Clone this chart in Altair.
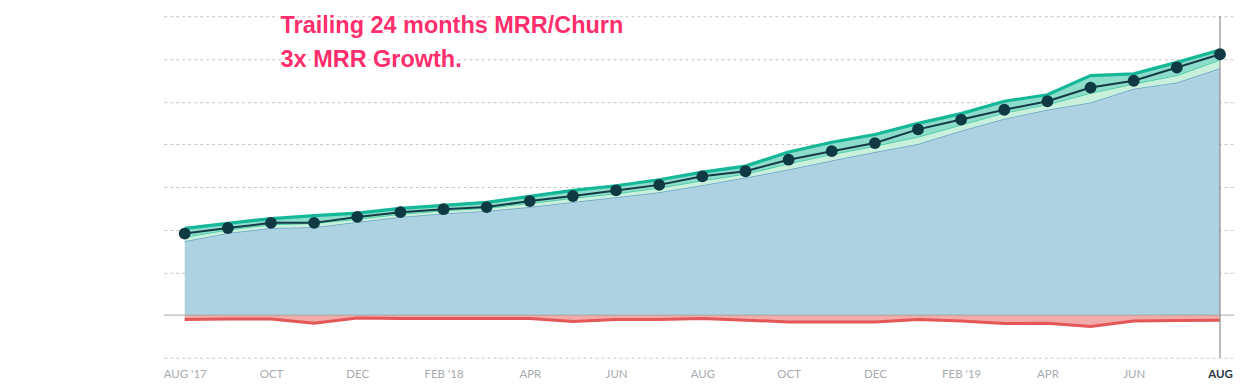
import json
import altair as alt
import pandas as pd

# ---- data (units = one gridline step) ----
months = ["2017-08", "2017-09", "2017-10", "2017-11", "2017-12", "2018-01", "2018-02",
          "2018-03", "2018-04", "2018-05", "2018-06", "2018-07", "2018-08", "2018-09",
          "2018-10", "2018-11", "2018-12", "2019-01", "2019-02", "2019-03", "2019-04",
          "2019-05", "2019-06", "2019-07", "2019-08"]
base = [1.73, 1.92, 2.04, 2.06, 2.18, 2.30, 2.38, 2.44, 2.53, 2.65, 2.76, 2.88, 3.04,
        3.22, 3.41, 3.62, 3.82, 4.01, 4.32, 4.60, 4.81, 4.98, 5.30, 5.45, 5.78]
expansion = [0.10, 0.08, 0.08, 0.09, 0.07, 0.07, 0.07, 0.07, 0.09, 0.09, 0.09, 0.10, 0.11,
             0.09, 0.14, 0.15, 0.14, 0.17, 0.14, 0.14, 0.12, 0.22, 0.12, 0.17, 0.20]
new = [0.20, 0.15, 0.14, 0.18, 0.14, 0.13, 0.12, 0.13, 0.16, 0.18, 0.18, 0.19, 0.20,
       0.18, 0.27, 0.28, 0.27, 0.31, 0.26, 0.27, 0.23, 0.41, 0.23, 0.30, 0.23]
contraction = [0.02, 0.02, 0.02, 0.02, 0.02, 0.02, 0.02, 0.02, 0.02, 0.02, 0.02, 0.02, 0.02,
               0.02, 0.02, 0.02, 0.02, 0.02, 0.02, 0.02, 0.02, 0.02, 0.02, 0.02, 0.02]
churn = [0.085, 0.07, 0.07, 0.17, 0.05, 0.06, 0.06, 0.06, 0.06, 0.13, 0.085, 0.085, 0.06,
         0.10, 0.14, 0.14, 0.14, 0.085, 0.12, 0.18, 0.17, 0.25, 0.12, 0.11, 0.10]
net = [1.91, 2.04, 2.16, 2.16, 2.30, 2.41, 2.48, 2.53, 2.67, 2.79, 2.92, 3.05, 3.25,
       3.37, 3.64, 3.84, 4.03, 4.35, 4.58, 4.81, 5.01, 5.33, 5.49, 5.80, 6.11]

tick_values = [0, 2, 4, 6, 8, 10, 12, 14, 16, 18, 20, 22, 24]
tick_labels = ["AUG '17", "OCT", "DEC", "FEB '18", "APR", "JUN", "AUG",
               "OCT", "DEC", "FEB '19", "APR", "JUN", "AUG"]
grid_values = [-1, 1, 2, 3, 4, 5, 6, 7]
title_lines = ["Trailing 24 months MRR/Churn", "3x MRR Growth."]

df = pd.DataFrame({"i": list(range(len(months))), "month": months, "base": base,
                   "expansion": expansion, "new": new, "contraction": contraction,
                   "churn": churn, "net": net})
df["zero"] = 0.0
df["exp_top"] = df["base"] + df["expansion"]
df["new_top"] = df["exp_top"] + df["new"]
df["con_bot"] = -df["contraction"]
df["churn_bot"] = df["con_bot"] - df["churn"]

label_expr = json.dumps(tick_labels) + "[round(datum.value / 2)]"

xs = alt.Scale(domain=[-0.486, 24.325], nice=False, zero=False)
ys = alt.Scale(domain=[-1, 7], nice=False, zero=False)

x_axis = alt.Axis(values=tick_values, labelExpr=label_expr, grid=False, domain=False,
                  ticks=False, title=None, labelFont="Lato", labelFontSize=11.5,
                  labelPadding=11, labelAngle=0,
                  labelColor={"condition": {"test": "datum.value == 24", "value": "#2b3640"},
                              "value": "#a7abb0"},
                  labelFontWeight={"condition": {"test": "datum.value == 24", "value": "bold"},
                                   "value": "normal"})
y_axis = alt.Axis(values=grid_values, grid=True, gridDash=[3, 3], gridColor="#c6c6c6",
                  gridWidth=1, labels=False, ticks=False, domain=False, title=None)


def X():
    return alt.X("i:Q", scale=xs, axis=x_axis)


def Y(field):
    return alt.Y(field, type="quantitative", scale=ys, axis=y_axis)


b = alt.Chart(df)

area_base = b.mark_area(color="#add2e2").encode(x=X(), y=Y("base"), y2=alt.Y2("zero"))
line_base = b.mark_line(color="#6aa4c6", strokeWidth=1.5).encode(x=X(), y=Y("base"))
area_exp = b.mark_area(color="#c8f0dc").encode(x=X(), y=Y("exp_top"), y2=alt.Y2("base"))
line_exp = b.mark_line(color="#3fcb9e", strokeWidth=1.5).encode(x=X(), y=Y("exp_top"))
area_new = b.mark_area(color="#8edccb").encode(x=X(), y=Y("new_top"), y2=alt.Y2("exp_top"))
line_new = b.mark_line(color="#14b797", strokeWidth=3.2).encode(x=X(), y=Y("new_top"))
area_con = b.mark_area(color="#f5a57f").encode(x=X(), y=Y("con_bot"), y2=alt.Y2("zero"))
area_churn = b.mark_area(color="#f2abab").encode(x=X(), y=Y("churn_bot"), y2=alt.Y2("con_bot"))
line_churn = b.mark_line(color="#e45757", strokeWidth=3).encode(x=X(), y=Y("churn_bot"))

one = alt.Chart(pd.DataFrame({"k": [0]}))
zero_rule = one.mark_rule(color="#a7acb1", strokeWidth=1.2, opacity=0.85).encode(
    y=alt.datum(0, scale=ys, axis=y_axis))
v_rule = one.mark_rule(color="#8a8d90", strokeWidth=1.2).encode(
    x=alt.datum(24, scale=xs, axis=x_axis))

net_line = b.mark_line(color="#153b46", strokeWidth=2).encode(x=X(), y=Y("net"))
net_pts = b.mark_circle(size=140, color="#0f3a44", opacity=1).encode(x=X(), y=Y("net"))

txt_kw = dict(align="left", baseline="alphabetic", font="Liberation Sans",
              fontWeight="bold", fontSize=23.5, lineHeight=33.5)
t_shadow = one.mark_text(color="#6a6a6a", opacity=0.4, dx=1, dy=2, **txt_kw).encode(
    x=alt.value(117), y=alt.value(17), text=alt.value(title_lines))
t_white = one.mark_text(fill="white", stroke="white", strokeWidth=4, **txt_kw).encode(
    x=alt.value(117), y=alt.value(17), text=alt.value(title_lines))
t_pink = one.mark_text(color="#ff2e6c", **txt_kw).encode(
    x=alt.value(117), y=alt.value(17), text=alt.value(title_lines))

chart = alt.layer(
    area_base, line_base, area_exp, line_exp, area_new, line_new,
    area_con, area_churn, line_churn, zero_rule, v_rule, net_line, net_pts,
    t_shadow, t_white, t_pink
).properties(
    width=1072, height=342, background="white",
    padding={"left": 155, "top": 6, "right": 0, "bottom": 3}
).configure_view(stroke=None)

chart.save("out.html", embed_options={"renderer": "svg", "actions": False})
